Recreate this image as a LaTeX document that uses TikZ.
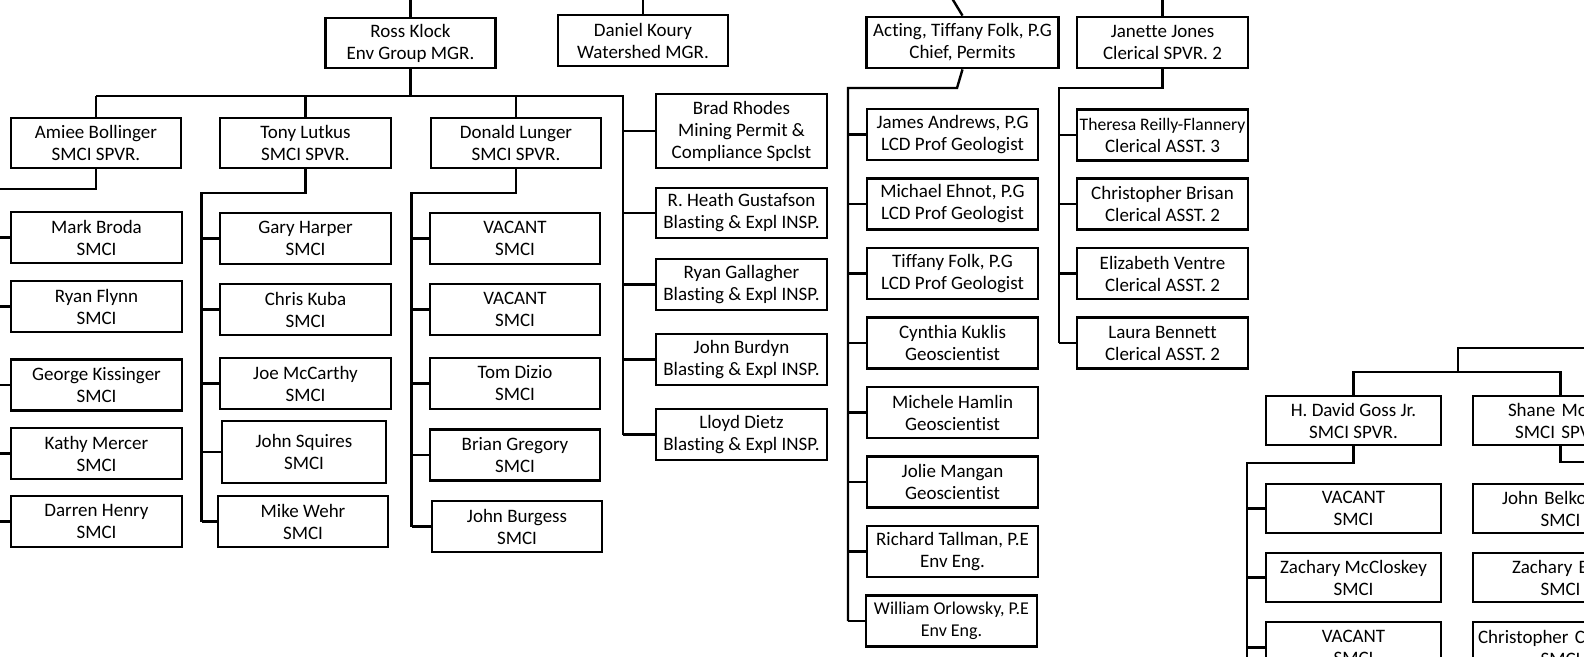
\documentclass[tikz,border=0pt]{standalone}
\usepackage{fontspec}
\setmainfont{Carlito}[Ligatures=NoCommon]
\usetikzlibrary{positioning}

\begin{document}
\begin{tikzpicture}[x=1pt,y=-1pt,
  box/.style={draw,line width=2.8pt,minimum width=171pt,minimum height=51pt,
    inner sep=0pt,align=center,font=\fontsize{19}{22}\selectfont},
  link/.style={line width=2.4pt}]
  \useasboundingbox (0,0) rectangle (1584,656);
  \clip (0,0) rectangle (1584,656);

  \coordinate (top) at (0,-6);

  \node[box,minimum width=170pt,minimum height=50pt] (ross) at (410.5,43) {Ross Klock\\Env Group MGR.};
  \node[box,minimum width=170pt] (koury) at (643,40.5) {Daniel Koury\\Watershed MGR.};
  \node[box,minimum width=192pt] (acting) at (962.5,42.5) {Acting, Tiffany Folk, P.G\\Chief, Permits};
  \node[box] (jones) at (1162.5,42.5) {Janette Jones\\Clerical SPVR. 2};

  \draw[link] (ross.north) -- (ross.north |- top);
  \draw[link] (koury.north) -- (koury.north |- top);
  \coordinate (actup) at (951.2,-3);
  \draw[link] (acting.north) -- (actup);
  \draw[link] (jones.north) -- (jones.north |- top);

  \node[box,minimum width=170pt,minimum height=50pt] (amiee) at (96,143) {Amiee Bollinger\\SMCI SPVR.};
  \node[box,minimum height=50pt] (tony) at (305.5,143) {Tony Lutkus\\SMCI SPVR.};
  \node[box,minimum width=170pt,minimum height=50pt] (donald) at (516,143) {Donald Lunger\\SMCI SPVR.};

  \node[box,minimum height=74pt] (rhodes) at (741.5,131) {Brad Rhodes\\Mining Permit \&\\Compliance Spclst};
  \node[box,minimum height=50pt] (gustafson) at (741.5,213) {R. Heath Gustafson\\Blasting \& Expl INSP.};
  \node[box] (gallagher) at (741.5,284.5) {Ryan Gallagher\\Blasting \& Expl INSP.};
  \node[box] (burdyn) at (741.5,359.5) {John Burdyn\\Blasting \& Expl INSP.};
  \node[box] (dietz) at (741.5,434.5) {Lloyd Dietz\\Blasting \& Expl INSP.};

  \coordinate (rossbus) at (96,96);
  \coordinate (rhspine) at (623,96);
  \draw[link] (ross.south) -- (ross.south |- rossbus);
  \draw[link] (rossbus) -- (rhspine) -- (rhspine |- dietz.west);
  \foreach \n in {amiee,tony,donald}
    \draw[link] (\n.north |- rossbus) -- (\n.north);
  \foreach \n in {rhodes,gustafson,gallagher,burdyn,dietz}
    \draw[link] (rhspine |- \n.west) -- (\n.west);

  \node[box] (broda) at (96.5,237.5) {Mark Broda\\SMCI};
  \node[box] (flynn) at (96.5,306.5) {Ryan Flynn\\SMCI};
  \node[box] (kissinger) at (96.5,385) {George Kissinger\\SMCI};
  \node[box] (mercer) at (96.5,453.5) {Kathy Mercer\\SMCI};
  \node[box] (henry) at (96.5,521.5) {Darren Henry\\SMCI};

  \coordinate (amspine) at (-4,189);
  \draw[link] (amiee.south) -- (amiee.south |- amspine) -- (amspine) -- (amspine |- henry.west);
  \foreach \n in {broda,flynn,kissinger,mercer,henry}
    \draw[link] (amspine |- \n.west) -- (\n.west);

  \node[box] (harper) at (305.5,238.5) {Gary Harper\\SMCI};
  \node[box] (kuba) at (305.5,309.5) {Chris Kuba\\SMCI};
  \node[box] (mccarthy) at (305.5,383.5) {Joe McCarthy\\SMCI};
  \node[box,minimum width=164pt,minimum height=62pt] (squires) at (304,452) {John Squires\\SMCI};
  \node[box,minimum width=170pt] (wehr) at (303,521.5) {Mike Wehr\\SMCI};

  \coordinate (tonyspine) at (201.5,193);
  \draw[link] (tony.south) -- (tony.south |- tonyspine) -- (tonyspine) -- (tonyspine |- wehr.west);
  \foreach \n in {harper,kuba,mccarthy,squires,wehr}
    \draw[link] (tonyspine |- \n.west) -- (\n.west);

  \node[box,minimum width=170pt] (vacanta) at (515,238.5) {VACANT\\SMCI};
  \node[box,minimum width=170pt] (vacantb) at (515,309.5) {VACANT\\SMCI};
  \node[box,minimum width=170pt] (dizio) at (515,383.5) {Tom Dizio\\SMCI};
  \node[box,minimum width=170pt] (gregory) at (515,455) {Brian Gregory\\SMCI};
  \node[box,minimum width=170pt] (burgess) at (517,526.5) {John Burgess\\SMCI};

  \coordinate (donspine) at (411.5,193);
  \draw[link] (donald.south) -- (donald.south |- donspine) -- (donspine) -- (donspine |- burgess.west);
  \foreach \n in {vacanta,vacantb,dizio,gregory,burgess}
    \draw[link] (donspine |- \n.west) -- (\n.west);

  \node[box] (andrews) at (952.5,134.5) {James Andrews, P.G\\LCD Prof Geologist};
  \node[box] (ehnot) at (952.5,204) {Michael Ehnot, P.G\\LCD Prof Geologist};
  \node[box] (folk) at (952.5,273.5) {Tiffany Folk, P.G\\LCD Prof Geologist};
  \node[box] (kuklis) at (952.5,343) {Cynthia Kuklis\\Geoscientist};
  \node[box] (hamlin) at (952.5,412.5) {Michele Hamlin\\Geoscientist};
  \node[box] (mangan) at (952.5,482) {Jolie Mangan\\Geoscientist};
  \node[box] (tallman) at (952.5,551.5) {Richard Tallman, P.E\\Env Eng.};
  \node[box,font=\fontsize{18}{22}\selectfont] (orlowsky) at (951.5,621) {William Orlowsky, P.E\\Env Eng.};

  \coordinate (actbend) at (957,88);
  \coordinate (actspine) at (848,88);
  \draw[link] (acting.south) -- (actbend) -- (actspine) -- (actspine |- orlowsky.west);
  \foreach \n in {andrews,ehnot,folk,kuklis,hamlin,mangan,tallman,orlowsky}
    \draw[link] (actspine |- \n.west) -- (\n.west);

  \node[box] (reilly) at (1162.5,135) {\fontsize{17.6}{22}\selectfont Theresa Reilly-Flannery\\Clerical ASST. 3};
  \node[box] (brisan) at (1162.5,204) {Christopher Brisan\\Clerical ASST. 2};
  \node[box] (ventre) at (1162.5,273.5) {Elizabeth Ventre\\Clerical ASST. 2};
  \node[box] (bennett) at (1162.5,343) {Laura Bennett\\Clerical ASST. 2};

  \coordinate (jonspine) at (1059,88);
  \draw[link] (jones.south) -- (jones.south |- jonspine) -- (jonspine) -- (jonspine |- bennett.west);
  \foreach \n in {reilly,brisan,ventre,bennett}
    \draw[link] (jonspine |- \n.west) -- (\n.west);

  \node[box,minimum width=175pt,minimum height=49pt] (goss) at (1353.5,420.5) {H. David Goss Jr.\\SMCI SPVR.};
  \node[box,minimum width=175pt,minimum height=49pt,text width=175pt] (shane) at (1560.5,420.5)
    {\makebox[175pt][l]{\hspace*{35pt}Shane Mo}\\SMCI SPVR.};

  \coordinate (gright) at (1600,348);
  \coordinate (gtop) at (1458,348);
  \coordinate (gbus) at (1458,372);
  \draw[link] (gright) -- (gtop) -- (gbus);
  \draw[link] (goss.north) -- (goss.north |- gbus) -- (shane.north |- gbus) -- (shane.north);

  \node[box,minimum width=175pt,minimum height=49pt] (vacantc) at (1353.5,508.5) {VACANT\\SMCI};
  \node[box,minimum width=175pt,minimum height=49pt] (mccloskey) at (1353.5,577.5) {Zachary McCloskey\\SMCI};
  \node[box,minimum width=175pt,minimum height=51pt] (vacantd) at (1353.5,647.5) {VACANT\\SMCI};

  \coordinate (gspine) at (1247,463);
  \coordinate (gbottom) at (1247,670);
  \draw[link] (goss.south) -- (goss.south |- gspine) -- (gspine) -- (gbottom);
  \foreach \n in {vacantc,mccloskey,vacantd}
    \draw[link] (gspine |- \n.west) -- (\n.west);

  \node[box,minimum width=175pt,minimum height=49pt,text width=175pt] (belko) at (1560.5,508.5)
    {\makebox[175pt][l]{\hspace*{29pt}John Belko}\\SMCI};
  \node[box,minimum width=175pt,minimum height=49pt,text width=175pt] (zachary) at (1560.5,577.5)
    {\makebox[175pt][l]{\hspace*{39pt}Zachary B}\\SMCI};
  \node[box,minimum width=175pt,minimum height=51pt,text width=175pt] (christopher) at (1560.5,647.5)
    {\makebox[175pt][l]{\hspace*{5pt}Christopher C}\\SMCI};

  \coordinate (sright) at (1600,462);
  \draw[link] (shane.south) -- (shane.south |- sright) -- (sright);
\end{tikzpicture}
\end{document}
